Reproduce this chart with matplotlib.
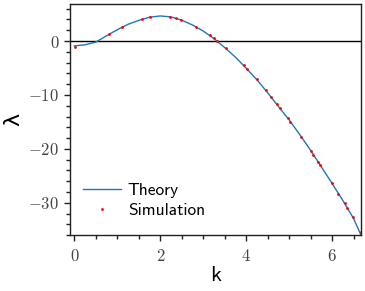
import matplotlib
matplotlib.use("Agg")
import matplotlib.pyplot as plt
from matplotlib.ticker import MultipleLocator

plt.rcParams['font.family'] = 'serif'
plt.rcParams['font.serif'] = ['cmr10']
plt.rcParams['mathtext.fontset'] = 'cm'
plt.rcParams['axes.formatter.use_mathtext'] = True

# theory curve
k_theory = [0.0, 0.25, 0.5, 0.75, 1.0, 1.25, 1.5, 1.75, 2.0, 2.25, 2.5, 2.75,
            3.0, 3.25, 3.5, 3.75, 4.0, 4.25, 4.5, 4.75, 5.0, 5.25, 5.5, 5.75,
            6.0, 6.25, 6.5, 6.67]
lam_theory = [-0.9, -0.7, -0.2, 0.98, 2.1, 3.1, 3.83, 4.42, 4.65, 4.47, 3.87, 2.97,
              1.85, 0.45, -1.22, -3.0, -5.05, -7.2, -9.6, -12.15, -14.65, -17.4, -20.3, -23.35,
              -26.45, -29.6, -32.95, -36.0]

# simulation points
k_sim = [0.02, 0.80, 1.12, 1.58, 1.77, 2.23, 2.36, 2.49, 2.84, 3.16, 3.24, 3.32,
         3.52, 3.94, 4.01, 4.24, 4.45, 4.58, 4.71, 4.78, 4.97, 5.03, 5.28, 5.50,
         5.56, 5.66, 5.72, 5.99, 6.14, 6.29, 6.34, 6.48, 6.67]
lam_sim = [-1.17, 1.24, 2.6, 4.08, 4.45, 4.5, 4.2, 3.9, 2.65, 1.05, 0.5, 0.06,
           -1.36, -4.45, -5.13, -7.1, -9.1, -10.45, -11.75, -12.5, -14.3, -15.0, -17.75, -20.35,
           -21.1, -22.45, -23.0, -26.3, -28.4, -30.1, -30.9, -32.7, -35.4]

fig = plt.figure(figsize=(3.65, 2.91), dpi=100)
ax = fig.add_axes([0.193, 0.192, 0.796, 0.793])

ax.axhline(0, color='black', lw=1.0)
ax.plot(k_theory, lam_theory, color='C0', lw=1.0, label='Theory')
ax.plot(k_sim, lam_sim, 'o', color='red', ms=2.0, mew=0, label='Simulation')

ax.set_xlim(-0.09, 6.67)
ax.set_ylim(-36, 6.8)
ax.xaxis.set_major_locator(MultipleLocator(2))
ax.xaxis.set_minor_locator(MultipleLocator(0.5))
ax.yaxis.set_major_locator(MultipleLocator(10))
ax.yaxis.set_minor_locator(MultipleLocator(2))
ax.tick_params(which='major', direction='out', length=4.5, width=1, labelsize=12,
               colors='#222222', labelcolor='#444444')
ax.tick_params(axis='x', which='major', pad=5)
ax.tick_params(which='minor', direction='out', length=3, width=1, colors='#222222')
for s in ax.spines.values():
    s.set_linewidth(1.0)
    s.set_color('#222222')

ax.set_xlabel('k', family='cmss10', fontsize=16, labelpad=1)
ax.set_ylabel('λ', family='DejaVu Sans', fontsize=16, labelpad=4)

ax.legend(loc='lower left', bbox_to_anchor=(0.0, 0.02), frameon=False,
          prop={'family': 'cmss10', 'size': 12.5}, handlelength=2.2,
          handletextpad=0.4, labelspacing=0.3, borderaxespad=0.3)

fig.savefig('out.png', dpi=100)
